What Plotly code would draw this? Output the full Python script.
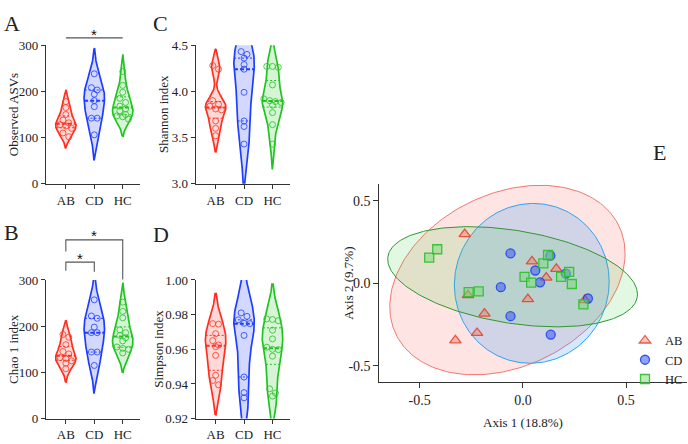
import numpy as np
import plotly.graph_objects as go

# ---------------- data ----------------
GROUPS = ["AB", "CD", "HC"]

# A: Observed ASVs
OBS_AB = [178, 165, 150, 138, 132, 128, 125, 120, 110, 102]
OBS_CD = [238, 208, 203, 194, 180, 167, 142, 142, 106]
OBS_HC = [243, 213, 198, 185, 176, 168, 162, 158, 150, 147, 145, 140]
# B: Chao 1
CHAO_AB = [182, 176, 160, 145, 140, 132, 130, 125, 120, 108]
CHAO_CD = [257, 222, 217, 198, 186, 186, 144, 144, 115]
CHAO_HC = [252, 232, 218, 192, 186, 180, 175, 168, 155, 152, 150, 142]
# C: Shannon
SHAN_AB = [4.28, 4.24, 3.90, 3.86, 3.84, 3.81, 3.80, 3.68, 3.60, 3.52]
SHAN_CD = [4.43, 4.40, 4.36, 4.29, 4.24, 3.99, 3.68, 3.62, 3.43]
SHAN_HC = [4.27, 4.27, 4.26, 4.07, 3.92, 3.90, 3.89, 3.88, 3.85, 3.77, 3.64, 3.43]
# D: Simpson
SIMP_AB = [0.9748, 0.9745, 0.9690, 0.9650, 0.9625, 0.9615, 0.9565, 0.9450, 0.9420, 0.9395]
SIMP_CD = [0.981, 0.979, 0.977, 0.975, 0.9748, 0.968, 0.944, 0.935, 0.932]
SIMP_HC = [0.9775, 0.9772, 0.9765, 0.9710, 0.9660, 0.9612, 0.9600, 0.9598, 0.9560, 0.9372, 0.9348, 0.9330]

# E: PCoA
AB_X = [-0.282, -0.266, -0.186, -0.222, -0.327, 0.044, 0.024, 0.113, 0.162, 0.300]
AB_Y = [0.299, -0.072, -0.184, -0.301, -0.346, 0.133, -0.096, 0.035, 0.088, -0.102]
CD_X = [-0.060, -0.107, -0.060, 0.060, 0.083, 0.133, 0.208, 0.315, 0.135]
CD_Y = [0.182, -0.023, -0.199, 0.078, 0.006, 0.168, 0.059, -0.092, -0.311]
HC_X = [-0.454, -0.415, -0.263, -0.214, 0.008, 0.040, 0.099, 0.122, 0.185, 0.224, 0.237, 0.293]
HC_Y = [0.156, 0.207, -0.053, -0.049, 0.039, 0.004, 0.121, 0.172, 0.039, 0.070, -0.004, -0.127]

# confidence ellipses (centre, spread along x/y, correlation)
ELL_CX = [-0.075, 0.043, -0.050]
ELL_CY = [0.020, 0.000, 0.040]
ELL_SX = [0.570, 0.375, 0.605]
ELL_SY = [0.575, 0.485, 0.304]
ELL_RHO = [0.28, 0.02, -0.35]

# tick labels
TICK_ASV = ["0", "100", "200", "300"]
TICK_SHAN = ["3.0", "3.5", "4.0", "4.5"]
TICK_SIMP = ["0.92", "0.94", "0.96", "0.98", "1.00"]
TICK_PC = ["-0.5", "0.0", "0.5"]

TITLES = ["Observed ASVs", "Shannon index", "Chao 1 index", "Simpson index"]
PANELS = ["A", "B", "C", "D", "E"]
AX1_TITLE = "Axis 1 (18.8%)"
AX2_TITLE = "Axis 2 (9.7%)"

# ---------------- style ----------------
W, H = 688, 444
SERIF = "Liberation Serif"
VCOL = ["#ff2e1f", "#1f3dff", "#20c420"]
VFILL = ["rgba(255,46,31,0.18)", "rgba(31,61,255,0.20)", "rgba(32,196,32,0.18)"]
PT_COL = ["rgba(255,60,40,0.85)", "rgba(40,70,255,0.85)", "rgba(40,200,40,0.85)"]
HALF = 0.36


def px(x):
    return x / W


def py(y):
    return 1 - y / H


fig = go.Figure()

panels = [
    # (values, xaxis, yaxis, yrange, plot height px)
    ([OBS_AB, OBS_CD, OBS_HC], "x", "y", [0, 300], 143.5),
    ([SHAN_AB, SHAN_CD, SHAN_HC], "x2", "y2", [3.0, 4.5], 143.5),
    ([CHAO_AB, CHAO_CD, CHAO_HC], "x3", "y3", [0, 300], 143.5),
    ([SIMP_AB, SIMP_CD, SIMP_HC], "x4", "y4", [0.92, 1.00], 144.0),
]


def add_violin(vals, pos, g, xa, ya, yrange, hpx):
    v = np.asarray(vals, float)
    n = len(v)
    sd = v.std(ddof=1)
    q1, q3 = np.percentile(v, [25, 75])
    s = min(sd, (q3 - q1) / 1.349) if q3 > q1 else sd
    bw = 1.059 * s * n ** -0.2
    grid = np.linspace(v.min() - 2 * bw, v.max() + 2 * bw, 300)
    dens = np.exp(-0.5 * ((grid[:, None] - v[None, :]) / bw) ** 2).sum(1)
    w = dens / dens.max() * HALF
    xs = np.concatenate([pos - w, (pos + w)[::-1], [pos - w[0]]])
    ys = np.concatenate([grid, grid[::-1], [grid[0]]])
    fig.add_trace(go.Scatter(x=xs, y=ys, mode="lines", fill="toself",
                             fillcolor=VFILL[g], line=dict(color=VCOL[g], width=1.7),
                             xaxis=xa, yaxis=ya, showlegend=False, hoverinfo="skip"))
    med = np.median(v)
    for q, dash, lw in [(med, "4px,2px", 2.0), (q1, "2px,2px", 1.0), (q3, "2px,2px", 1.0)]:
        hw = np.interp(q, grid, w)
        fig.add_trace(go.Scatter(x=[pos - hw, pos + hw], y=[q, q], mode="lines",
                                 line=dict(color=VCOL[g], width=lw, dash=dash),
                                 xaxis=xa, yaxis=ya, showlegend=False, hoverinfo="skip"))
    # point spreading (rows of near-equal values spread symmetrically)
    ypp = hpx / (yrange[1] - yrange[0])
    order = np.argsort(-v)
    rows = []
    for idx in order:
        if rows and abs(v[idx] - v[rows[-1][0]]) * ypp < 4.5:
            rows[-1].append(idx)
        else:
            rows.append([idx])
    off = np.zeros(n)
    for r in rows:
        k = len(r)
        for j, idx in enumerate(r):
            off[idx] = (j - (k - 1) / 2) * 5.8 / 28.5
    fig.add_trace(go.Scatter(x=pos + off, y=v, mode="markers",
                             marker=dict(symbol="circle-open", size=6,
                                         color=PT_COL[g], line=dict(width=1)),
                             xaxis=xa, yaxis=ya, showlegend=False, hoverinfo="skip"))


for vals3, xa, ya, yr, hpx in panels:
    for g, vals in enumerate(vals3):
        add_violin(vals, g, g, xa, ya, yr, hpx)

# ---------------- PCoA ----------------
t = np.linspace(0, 2 * np.pi, 240)
ELL_LINE = ["rgba(240,120,110,1)", "rgba(50,160,240,1)", "rgba(50,150,50,1)"]
ELL_FILL = ["rgba(248,118,109,0.20)", "rgba(30,144,255,0.20)", "rgba(50,205,50,0.14)"]
for g in range(3):
    sx, sy, r = ELL_SX[g], ELL_SY[g], ELL_RHO[g]
    cov = np.array([[sx * sx, r * sx * sy], [r * sx * sy, sy * sy]])
    L = np.linalg.cholesky(cov)
    pts = L @ np.vstack([np.cos(t), np.sin(t)])
    fig.add_trace(go.Scatter(x=ELL_CX[g] + pts[0], y=ELL_CY[g] + pts[1], mode="lines",
                             fill="toself", fillcolor=ELL_FILL[g],
                             line=dict(color=ELL_LINE[g], width=1),
                             xaxis="x5", yaxis="y5", showlegend=False, hoverinfo="skip"))

PC_X = [AB_X, CD_X, HC_X]
PC_Y = [AB_Y, CD_Y, HC_Y]
PC_SYM = ["triangle-up", "circle", "square"]
PC_FILL = ["rgba(245,110,90,0.40)", "rgba(70,100,235,0.60)", "rgba(120,220,120,0.50)"]
PC_EDGE = ["rgba(225,55,35,0.80)", "rgba(35,70,235,0.90)", "rgba(45,190,45,0.90)"]
for g in range(3):
    fig.add_trace(go.Scatter(x=PC_X[g], y=PC_Y[g], mode="markers", name=GROUPS[g],
                             marker=dict(symbol=PC_SYM[g], size=9 if g else 10,
                                         color=PC_FILL[g],
                                         line=dict(color=PC_EDGE[g], width=1.3)),
                             xaxis="x5", yaxis="y5", hoverinfo="skip"))

# ---------------- axes ----------------
axcommon = dict(showline=True, linecolor="#333", linewidth=1.2, ticks="outside",
                ticklen=4, tickwidth=1.1, tickcolor="#333", showgrid=False,
                zeroline=False, fixedrange=True,
                tickfont=dict(family=SERIF, size=13, color="#222"))

vx = dict(range=[-0.7, 2.6], tickvals=[0, 1, 2], ticktext=GROUPS, **axcommon)
top_dom = [py(183), py(39.5)]
bot_dom = [py(426), py(282.5)]
left_dom = [px(46), px(140)]
mid_dom = [px(196), px(290)]

layout = dict(
    width=W, height=H, margin=dict(l=0, r=0, t=0, b=0),
    paper_bgcolor="white", plot_bgcolor="rgba(0,0,0,0)",
    hovermode=False, showlegend=True,
    xaxis=dict(domain=left_dom, anchor="y", **vx),
    yaxis=dict(domain=top_dom, anchor="x", range=[0, 300], tickvals=[0, 100, 200, 300],
               ticktext=TICK_ASV, **axcommon),
    xaxis2=dict(domain=mid_dom, anchor="y2", **vx),
    yaxis2=dict(domain=top_dom, anchor="x2", range=[3.0, 4.5], tickvals=[3.0, 3.5, 4.0, 4.5],
                ticktext=TICK_SHAN, **axcommon),
    xaxis3=dict(domain=left_dom, anchor="y3", **vx),
    yaxis3=dict(domain=bot_dom, anchor="x3", range=[0, 300], tickvals=[0, 100, 200, 300],
                ticktext=TICK_ASV, **axcommon),
    xaxis4=dict(domain=mid_dom, anchor="y4", **vx),
    yaxis4=dict(domain=bot_dom, anchor="x4", range=[0.92, 1.00],
                tickvals=[0.92, 0.94, 0.96, 0.98, 1.00], ticktext=TICK_SIMP, **axcommon),
    xaxis5=dict(domain=[px(380), px(688)], anchor="y5", range=[-0.695, 0.795],
                tickvals=[-0.5, 0, 0.5], ticktext=TICK_PC,
                **{**axcommon, "tickfont": dict(family=SERIF, size=14, color="#222"), "ticklen": 5}),
    yaxis5=dict(domain=[py(388), py(183)], anchor="x5", range=[-0.598, 0.604],
                tickvals=[-0.5, 0, 0.5], ticktext=TICK_PC,
                **{**axcommon, "tickfont": dict(family=SERIF, size=14, color="#222"), "ticklen": 5}),
    legend=dict(x=px(626), y=py(330), xanchor="left", yanchor="top",
                bgcolor="rgba(0,0,0,0)", tracegroupgap=0,
                font=dict(family=SERIF, size=12.5, color="#222")),
)
fig.update_layout(**layout)

ann = []
# y-axis titles of violin panels
for title, xpx, ycen in [(TITLES[0], 13, 111), (TITLES[1], 163, 111),
                         (TITLES[2], 13, 354), (TITLES[3], 158, 354)]:
    ann.append(dict(text=title, x=px(xpx), y=py(ycen), xref="paper", yref="paper",
                    textangle=-90, showarrow=False, xanchor="center", yanchor="middle",
                    font=dict(family=SERIF, size=13, color="#222")))
# panel letters
for lab, xpx, ypx in [("A", 2, 2), ("C", 151, 2), ("B", 2, 218), ("D", 151, 220), ("E", 652, 136)]:
    ann.append(dict(text=lab, x=px(xpx), y=py(ypx), xref="paper", yref="paper",
                    showarrow=False, xanchor="left", yanchor="top",
                    font=dict(family=SERIF, size=22, color="#222")))
# PCoA axis titles
ann.append(dict(text=AX1_TITLE, x=px(524), y=py(430), xref="paper", yref="paper",
                showarrow=False, xanchor="center", yanchor="middle",
                font=dict(family=SERIF, size=13, color="#222")))
ann.append(dict(text=AX2_TITLE, x=px(349), y=py(286), xref="paper", yref="paper",
                textangle=-90, showarrow=False, xanchor="center", yanchor="middle",
                font=dict(family=SERIF, size=13, color="#222")))

# significance brackets
shapes = []
BR = dict(color="#555", width=1.1)
# A: AB vs HC
shapes.append(dict(type="line", xref="x", yref="paper", x0=0, x1=2, y0=py(32), y1=py(32), line=BR))
ann.append(dict(text="*", x=1, y=py(28), xref="x", yref="paper", showarrow=False,
                yanchor="middle", font=dict(family="Liberation Sans", size=15, color="#111")))
# B: outer AB vs HC
shapes.append(dict(type="path", xref="x3", yref="paper",
                   path=f"M 0,{py(253)} L 0,{py(241)} L 2,{py(241)} L 2,{py(282)}", line=BR))
ann.append(dict(text="*", x=1, y=py(237), xref="x3", yref="paper", showarrow=False,
                yanchor="middle", font=dict(family="Liberation Sans", size=15, color="#111")))
# B: inner AB vs CD
shapes.append(dict(type="path", xref="x3", yref="paper",
                   path=f"M 0,{py(273)} L 0,{py(264)} L 1,{py(264)} L 1,{py(274)}", line=BR))
ann.append(dict(text="*", x=0.5, y=py(260), xref="x3", yref="paper", showarrow=False,
                yanchor="middle", font=dict(family="Liberation Sans", size=15, color="#111")))

fig.update_layout(annotations=ann, shapes=shapes)
fig.write_html("out.html", config={"displayModeBar": False},
               post_script="document.body.style.margin='0';")
